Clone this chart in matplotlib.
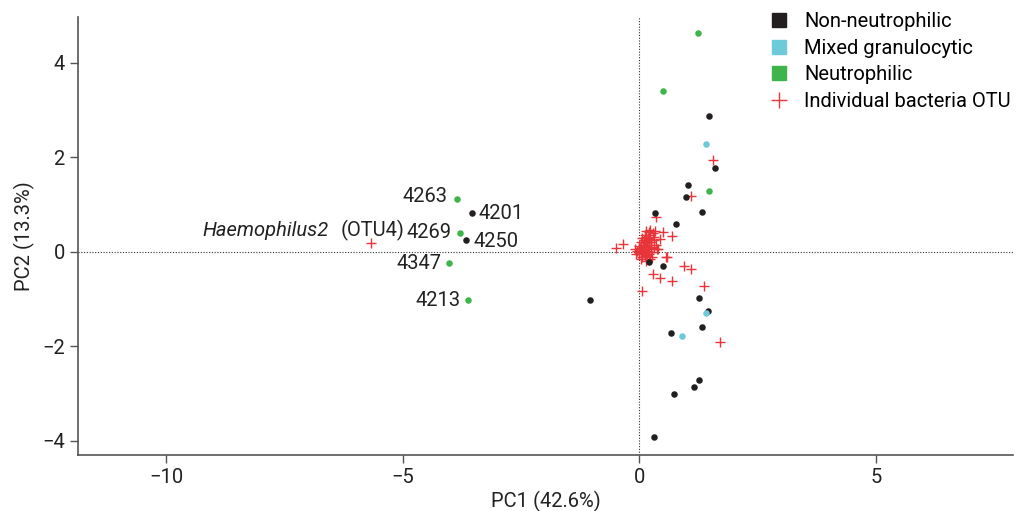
import matplotlib
matplotlib.use("Agg")
import matplotlib.pyplot as plt
from matplotlib.lines import Line2D

plt.rcParams['font.family'] = ['Roboto', 'DejaVu Sans']

# ---- data ----
non_neutro_x = [1.47, 1.59, 1.02, 0.98, 1.33, 0.33, 0.77, 0.21, 0.50, -1.05,
                1.26, 1.46, 1.33, 0.66, 1.27, 1.15, 0.73, 0.31, -3.54, -3.67]
non_neutro_y = [2.88, 1.78, 1.42, 1.15, 0.85, 0.83, 0.59, -0.21, -0.29, -1.02,
                -0.98, -1.26, -1.59, -1.72, -2.72, -2.86, -3.00, -3.91, 0.82, 0.25]

mixed_x = [1.40, 1.41, 0.90]
mixed_y = [2.29, -1.30, -1.79]

neutro_x = [1.23, 0.50, 1.47, -3.86, -3.80, -4.03, -3.63]
neutro_y = [4.63, 3.41, 1.28, 1.12, 0.40, -0.23, -1.02]

otu_x = [-5.67, -0.50, -0.34, 0.35, 0.22, 0.50, 0.68, 0.43, 0.40, 0.57,
         0.29, 0.43, 0.70, 0.94, 1.10, 1.37, 0.06, 1.70, 1.09, 1.56,
         0.38, 0.59,
         0.05, 0.10, 0.15, 0.20, 0.25, 0.12, 0.18, 0.22, 0.28, 0.15,
         0.08, 0.02, -0.05, -0.10, 0.00, 0.06, 0.12, 0.20, 0.25, 0.30,
         0.10, 0.05, 0.18, 0.22, 0.14, 0.03, -0.08, 0.30, 0.35, 0.08,
         0.16, 0.24, 0.00, 0.12, 0.27, 0.34, 0.20, 0.10, 0.04, 0.30,
         0.07, 0.13, 0.17, 0.09, 0.11, 0.19, 0.14, 0.06, 0.21, 0.16]
otu_y = [0.19, 0.08, 0.16, 0.73, 0.47, 0.43, 0.33, 0.28, 0.06, -0.10,
         -0.47, -0.56, -0.61, -0.31, -0.37, -0.73, -0.82, -1.90, 1.19, 1.95,
         0.06, -0.10,
         0.00, 0.05, 0.10, 0.15, 0.20, 0.25, 0.30, 0.35, 0.40, 0.45,
         0.15, 0.08, 0.02, 0.05, -0.05, -0.10, -0.08, -0.05, 0.00, 0.08,
         0.20, 0.30, 0.02, -0.15, -0.20, -0.15, -0.05, 0.25, 0.15, 0.10,
         0.18, 0.10, 0.12, 0.35, -0.10, 0.45, 0.42, -0.02, 0.20, 0.32,
         0.04, 0.12, 0.22, 0.26, 0.00, 0.07, 0.32, -0.02, 0.28, -0.06]

sample_labels = ["4263", "4201", "4269", "4250", "4347", "4213"]
sample_label_x = [-3.86, -3.54, -3.80, -3.67, -4.03, -3.63]
sample_label_y = [1.12, 0.82, 0.40, 0.25, -0.23, -1.02]
label_offsets = [(-9, 2), (7, 0), (-8, 0), (8, -1), (-7, -1), (-7, 0)]
label_ha = ["right", "left", "right", "left", "right", "right"]

otu_label_italic = "Haemophilus2"
otu_label_regular = "(OTU4)"
otu_label_x, otu_label_y = -5.67, 0.19

x_ticks = [-10, -5, 0, 5]
y_ticks = [-4, -2, 0, 2, 4]

legend_labels = ['Non-neutrophilic', 'Mixed granulocytic', 'Neutrophilic',
                 'Individual bacteria OTU']

# ---- style ----
C_BLACK = '#231f20'
C_CYAN = '#6dcad8'
C_GREEN = '#3db54a'
C_RED = '#e8353a'
SPINE = '#555555'
FS = 14.5
FS_LEG = 14.5

fig = plt.figure(figsize=(10.27, 5.11), dpi=100)
ax = fig.add_axes([78/1027, 56/511, (1013-78)/1027, (494-56)/511])

ax.axhline(0, color='#333333', lw=0.8, ls=(0, (1, 1.5)), zorder=1)
ax.axvline(0, color='#333333', lw=0.8, ls=(0, (1, 1.5)), zorder=1)

ax.scatter(otu_x, otu_y, marker='+', s=55, c=C_RED, linewidths=1.0, zorder=2)
ax.scatter(non_neutro_x, non_neutro_y, s=22, c=C_BLACK, linewidths=0, zorder=3)
ax.scatter(mixed_x, mixed_y, s=22, c=C_CYAN, linewidths=0, zorder=3)
ax.scatter(neutro_x, neutro_y, s=22, c=C_GREEN, linewidths=0, zorder=3)

for t, x, y, off, ha in zip(sample_labels, sample_label_x, sample_label_y, label_offsets, label_ha):
    ax.annotate(t, (x, y), xytext=off, textcoords='offset pixels',
                ha=ha, va='center', fontsize=FS, color='#222222')

ax.annotate(otu_label_italic, (otu_label_x, otu_label_y), xytext=(-43, 12),
            textcoords='offset pixels', ha='right', va='center',
            fontsize=FS, style='italic', color='#222222')
ax.annotate(otu_label_regular, (otu_label_x, otu_label_y), xytext=(-31, 12),
            textcoords='offset pixels', ha='left', va='center',
            fontsize=FS, color='#222222')

ax.set_xlim(-11.87, 7.9)
ax.set_ylim(-4.3, 4.97)
ax.set_xticks(x_ticks)
ax.set_yticks(y_ticks)
ax.set_xticklabels([str(v).replace('-', '\u2212') for v in x_ticks])
ax.set_yticklabels([str(v).replace('-', '\u2212') for v in y_ticks])

for s in ['top', 'right']:
    ax.spines[s].set_visible(False)
for s in ['left', 'bottom']:
    ax.spines[s].set_color(SPINE)
    ax.spines[s].set_linewidth(1.2)
ax.tick_params(axis='both', colors=SPINE, length=6, width=1.0,
               labelsize=FS, labelcolor='#222222')

ax.set_xlabel('PC1 (42.6%)', fontsize=FS, color='#222222', labelpad=3)
ax.set_ylabel('PC2 (13.3%)', fontsize=FS, color='#222222', labelpad=5)

handles = [
    Line2D([], [], ls='none', marker='s', markersize=10, color=C_BLACK),
    Line2D([], [], ls='none', marker='s', markersize=10, color=C_CYAN),
    Line2D([], [], ls='none', marker='s', markersize=10, color=C_GREEN),
    Line2D([], [], ls='none', marker='+', markersize=11, color=C_RED, markeredgewidth=1.0),
]
fig.legend(handles, legend_labels, loc='upper left', bbox_to_anchor=(765/1027, 1 - 8/511),
           frameon=False, fontsize=FS_LEG, handlelength=1.0, handletextpad=0.75,
           labelspacing=0.38, borderaxespad=0, borderpad=0.2)

fig.savefig('out.png', dpi=100)
